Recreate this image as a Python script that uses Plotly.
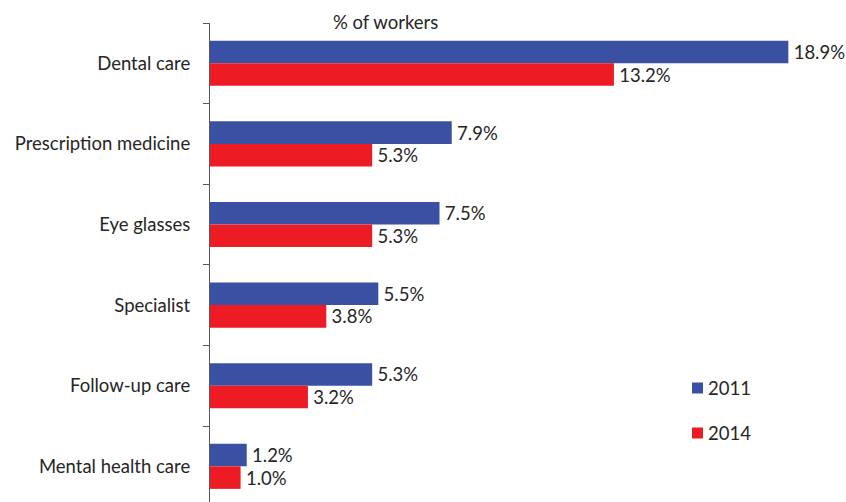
import plotly.graph_objects as go

categories = ["Dental care", "Prescription medicine", "Eye glasses",
              "Specialist", "Follow-up care", "Mental health care"]
values_2011 = [18.9, 7.9, 7.5, 5.5, 5.3, 1.2]
values_2014 = [13.2, 5.3, 5.3, 3.8, 3.2, 1.0]
series_names = ["2011", "2014"]
series_colors = ["#3a51a3", "#ed1c24"]
title_text = "% of workers"

FONT = "Lato, 'Open Sans', sans-serif"
TXT = "#262626"
FS = 18.5

fig = go.Figure()
for name, vals, col in zip(series_names, [values_2011, values_2014], series_colors):
    fig.add_trace(go.Bar(
        y=categories, x=vals, orientation="h", name=name,
        marker=dict(color=col, line=dict(width=0)),
        texttemplate="\u2009%{x:.1f}%", textposition="outside",
        textfont=dict(family=FONT, size=FS, color=TXT),
        constraintext="none",
        cliponaxis=False, showlegend=False,
    ))

W, H = 846, 502
L, R, T, B = 210, 0, 23, 0
PW, PH = W - L - R, H - T - B


def px_x(x):
    return (x - L) / PW


def px_y(y):
    return 1 - (y - T) / PH


annotations = [dict(text=title_text, x=px_x(385), xref="paper", y=px_y(22),
                    yref="paper", xanchor="center", yanchor="middle",
                    showarrow=False, font=dict(family=FONT, size=FS, color=TXT))]
shapes = []
legend_y = [388, 433]
for name, col, ly in zip(series_names, series_colors, legend_y):
    shapes.append(dict(type="rect", xref="paper", yref="paper",
                       x0=px_x(692), x1=px_x(703), y0=px_y(ly - 5.5), y1=px_y(ly + 5.5),
                       fillcolor=col, line=dict(width=0)))
    annotations.append(dict(
        text=name, x=px_x(706), xref="paper", y=px_y(ly), yref="paper",
        xanchor="left", yanchor="middle", showarrow=False,
        font=dict(family=FONT, size=FS, color=TXT)))

cat_px = 80.6
fig.update_layout(
    width=W, height=H,
    margin=dict(l=L, r=R, t=T, b=B, autoexpand=False),
    paper_bgcolor="white", plot_bgcolor="white",
    barmode="group", bargap=0.44, bargroupgap=0,
    font=dict(family=FONT, size=FS, color=TXT),
    showlegend=False,
    annotations=annotations, shapes=shapes,
)
fig.update_xaxes(range=[0, PW / 30.6], visible=False,
                 showgrid=False, zeroline=False)
fig.update_yaxes(
    type="category", autorange=False, range=[PH / cat_px - 0.5, -0.5],
    showline=True, linecolor="#595959", linewidth=1.2,
    ticks="outside", ticklen=6, tickcolor="#595959", tickson="boundaries",
    showgrid=False, ticklabelstandoff=15,
    tickfont=dict(family=FONT, size=FS, color=TXT),
)

fig.write_html(
    "out.html",
    config={"displayModeBar": False},
    post_script="document.body.style.margin='0';document.body.style.overflow='hidden';",
)
